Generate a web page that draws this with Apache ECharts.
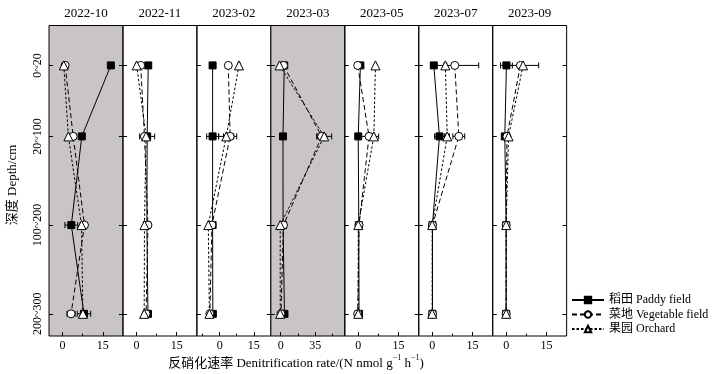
<!DOCTYPE html>
<html><head><meta charset="utf-8">
<script src="https://cdn.jsdelivr.net/npm/echarts@6/dist/echarts.min.js"></script>
<style>html,body{margin:0;padding:0;background:#fff}#c{width:726px;height:374px}</style>
</head><body><div id="c"></div>
<script>
const months = ['2022-10','2022-11','2023-02','2023-03','2023-05','2023-07','2023-09'];
const depthLabels = ['0~20','20~100','100~200','200~300'];
const depths = [20, 100, 200, 300];
const xMin = [-5, -5, -10, -10, -5, -5, -5];
const xMax = [22.5, 22.5, 22.5, 65, 22.5, 22.5, 22.5];
const xMajorTicks = [[0,15],[0,15],[0,15],[0,35],[0,15],[0,15],[0,15]];
const xMinorTicks = [[7.5],[7.5],[-7.5,7.5],[17.5,52.5],[7.5],[7.5],[7.5]];
const shaded = [true, false, false, true, false, false, false];

const seriesNames = ['稻田 Paddy field', '菜地 Vegetable field', '果园 Orchard'];
const paddy = [
  [18.0, 7.2, 3.3, 8.0],
  [4.4, 4.0, 3.9, 4.3],
  [-3.1, -3.1, -3.1, -3.0],
  [3.6, 2.3, 2.4, 3.8],
  [0.8, 0.0, 0.2, 0.3],
  [0.6, 2.7, 0.1, 0.1],
  [0.1, -0.5, 0.0, 0.0]
];
const vegetable = [
  [1.0, 4.0, 8.2, 3.2],
  [1.6, 3.0, 4.3, 3.6],
  [3.8, 4.6, -3.4, -4.3],
  [2.8, 41.5, 2.8, 0.2],
  [-0.2, 4.0, 0.3, -0.2],
  [8.4, 9.9, 0.1, 0.1],
  [5.3, 0.3, 0.0, 0.0]
];
const orchard = [
  [0.5, 2.2, 7.1, 7.6],
  [0.1, 3.6, 3.0, 2.9],
  [8.5, 2.9, -5.0, -4.5],
  [-1.2, 44.1, -0.5, -0.5],
  [6.4, 5.8, 0.0, 0.0],
  [4.9, 5.6, 0.0, 0.0],
  [6.3, 0.9, 0.0, 0.0]
];
const paddyErr = [
  [0.3, 0.4, 2.4, 2.5],
  [0.3, 2.8, 0.3, 0.3],
  [0.3, 2.6, 0.3, 0.3],
  [0.5, 0.6, 0.5, 0.6],
  [0.3, 0.3, 0.2, 0.2],
  [0.3, 1.8, 0.2, 0.2],
  [2.2, 0.4, 0.2, 0.2]
];
const vegetableErr = [
  [0.3, 1.0, 1.0, 1.5],
  [0.3, 0.8, 0.4, 0.3],
  [0.8, 2.9, 0.3, 0.3],
  [0.5, 4.4, 0.5, 0.5],
  [0.3, 3.6, 0.2, 0.2],
  [8.9, 2.2, 0.2, 0.2],
  [1.0, 0.5, 0.2, 0.2]
];
const orchardErr = [
  [0.3, 0.3, 0.5, 0.5],
  [0.3, 0.4, 0.3, 0.3],
  [0.5, 3.3, 0.3, 0.3],
  [0.5, 7.6, 0.5, 0.5],
  [0.3, 0.3, 0.2, 0.2],
  [0.5, 0.8, 0.2, 0.2],
  [5.8, 0.4, 0.2, 0.2]
];

const FONT = "'Liberation Serif','Noto Sans CJK SC',serif";
const GRAY = '#c8c5c4';
const gridLeft = 49, gridW = 73.95, gridTop = 25.5, gridH = 310.5;

const grids = [], xAxes = [], yAxes = [], series = [], graphics = [];
const values = [paddy, vegetable, orchard];
const errs = [paddyErr, vegetableErr, orchardErr];
const symbols = ['rect', 'circle', 'triangle'];
const symSizes = [7, 8, 9];
const dashes = ['solid', [5, 3], [2.5, 2]];

months.forEach((m, p) => {
  const left = gridLeft + p * gridW;
  grids.push({left: left, top: gridTop, width: gridW, height: gridH, show: true,
    borderColor: '#000', borderWidth: 1, backgroundColor: shaded[p] ? GRAY : 'transparent', containLabel: false});
  xAxes.push({type: 'value', gridIndex: p, min: xMin[p], max: xMax[p], position: 'bottom', offset: 0,
    axisLine: {show: false, onZero: false}, splitLine: {show: false},
    axisTick: {show: true, inside: true, length: 4, customValues: xMajorTicks[p], lineStyle: {color: '#000'}},
    axisLabel: {show: true, customValues: xMajorTicks[p], margin: 4, color: '#000', fontSize: 12, fontFamily: FONT}});
  yAxes.push({type: 'value', gridIndex: p, min: -25, max: 325, inverse: true, position: 'left', offset: 0,
    axisLine: {show: false, onZero: false}, splitLine: {show: false},
    axisTick: {show: true, inside: true, length: 4, customValues: depths, lineStyle: {color: '#000'}},
    axisLabel: {show: p === 0, customValues: depths, rotate: 90, margin: 5, color: '#000', fontSize: 12, fontFamily: FONT,
      formatter: v => depthLabels[depths.indexOf(v)] || ''}});
  graphics.push({type: 'text', x: left + gridW / 2, y: 14, style: {text: m, font: '13px ' + FONT, fill: '#000', align: 'center', verticalAlign: 'middle'}});
});
// minor x ticks and right-side y ticks
months.forEach((m, p) => {
  xAxes.push({type: 'value', gridIndex: p, min: xMin[p], max: xMax[p], position: 'bottom', offset: 0,
    axisLine: {show: false, onZero: false}, splitLine: {show: false}, axisLabel: {show: false},
    axisTick: {show: true, inside: true, length: 2.5, customValues: xMinorTicks[p], lineStyle: {color: '#000'}}});
  yAxes.push({type: 'value', gridIndex: p, min: -25, max: 325, inverse: true, position: 'right', offset: 0,
    axisLine: {show: false, onZero: false}, splitLine: {show: false}, axisLabel: {show: false},
    axisTick: {show: p % 2 === 0, inside: true, length: 4, customValues: depths, lineStyle: {color: '#000'}}});
});

months.forEach((m, p) => {
  for (let s = 0; s < 3; s++) {
    const errData = depths.map((d, i) => [values[s][p][i], d, errs[s][p][i]]);
    series.push({type: 'custom', xAxisIndex: p, yAxisIndex: p, z: 1, silent: true,
      data: errData, encode: {x: 0, y: 1},
      renderItem: (params, api) => {
        const x = api.value(0), y = api.value(1), e = api.value(2);
        const a = api.coord([x - e, y]), b = api.coord([x + e, y]);
        const st = {stroke: '#000', lineWidth: 1, fill: null};
        return {type: 'group', children: [
          {type: 'line', shape: {x1: a[0], y1: a[1], x2: b[0], y2: b[1]}, style: st},
          {type: 'line', shape: {x1: a[0], y1: a[1] - 3, x2: a[0], y2: a[1] + 3}, style: st},
          {type: 'line', shape: {x1: b[0], y1: b[1] - 3, x2: b[0], y2: b[1] + 3}, style: st}
        ]};
      }});
    series.push({type: 'line', name: seriesNames[s], xAxisIndex: p, yAxisIndex: p, z: 3,
      data: depths.map((d, i) => [values[s][p][i], d]),
      symbol: symbols[s], symbolSize: symSizes[s], showSymbol: true, animation: false,
      lineStyle: {color: '#000', width: 1, type: dashes[s]},
      itemStyle: {color: s === 0 ? '#000' : '#fff', borderColor: '#000', borderWidth: 1}});
  }
});

graphics.push({type: 'text', x: 296, y: 362, style: {
  text: '{a|反硝化速率 Denitrification rate/(N nmol g}{s|−1}{a| h}{s|−1}{a|)}',
  rich: {a: {fontSize: 13, fontFamily: FONT, fill: '#000', lineHeight: 16, verticalAlign: 'bottom'},
         s: {fontSize: 8, fontFamily: FONT, fill: '#000', lineHeight: 16, verticalAlign: 'top'}},
  align: 'center', verticalAlign: 'middle'}});
graphics.push({type: 'text', x: 13, y: 185, rotation: Math.PI / 2, style: {
  text: '深度 Depth/cm', font: '13px ' + FONT, fill: '#000', align: 'center', verticalAlign: 'middle'}});

const chart = echarts.init(document.getElementById('c'));
chart.setOption({
  animation: false,
  grid: grids, xAxis: xAxes, yAxis: yAxes, series: series,
  legend: {data: seriesNames, orient: 'vertical', left: 571, top: 293.5, padding: 0, itemWidth: 32, itemHeight: 8, itemGap: 1.5,
    textStyle: {fontSize: 12, fontFamily: FONT, color: '#000', padding: [0, 0, 0, 0], lineHeight: 13}, selectedMode: false},
  graphic: graphics
});
</script></body></html>
